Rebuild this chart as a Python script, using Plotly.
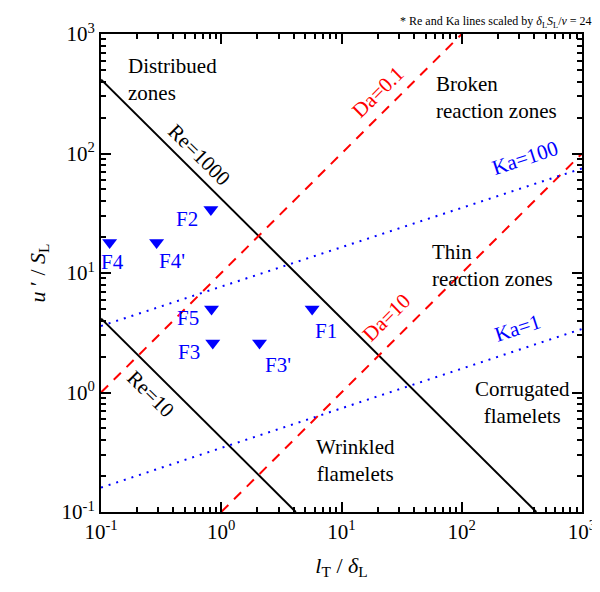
import math
import plotly.graph_objects as go

# ---- data ----
# model boundary lines: endpoints in (l_T/delta_L, u'/S_L)
re10_x = [0.1, 4.17]
re10_y = [4.17, 0.1]
re1000_x = [0.1, 417]
re1000_y = [417, 0.1]
da01_x = [0.1, 100]
da01_y = [1.0, 1000]
da10_x = [1.0, 1000]
da10_y = [0.1, 100]
ka1_x = [0.1, 1000]
ka1_y = [0.16, 3.4]
ka100_x = [0.1, 1000]
ka100_y = [3.6, 75]

# flames
flame_names = ["F1", "F2", "F3", "F3'", "F4", "F4'", "F5"]
flame_x = [5.7, 0.82, 0.85, 2.08, 0.118, 0.29, 0.83]
flame_y = [5.0, 34.0, 2.6, 2.6, 18.0, 18.0, 5.0]

tick_vals = [0.1, 1, 10, 100, 1000]
tick_text = ["10<sup>-1</sup>", "10<sup>0</sup>", "10<sup>1</sup>", "10<sup>2</sup>", "10<sup>3</sup>"]

# ---- styling ----
FONT = "Liberation Serif"
FS = 21
BLUE = "#0000ff"
RED = "#ff0000"
label_shift = {"F1": (14, -22), "F2": (-24, -10), "F3": (-24, -9), "F3'": (18, -22),
               "F4": (3, -20), "F4'": (15, -19), "F5": (-24, -9)}

fig = go.Figure()
fig.add_trace(go.Scatter(x=re10_x, y=re10_y, mode="lines", line=dict(color="black", width=2)))
fig.add_trace(go.Scatter(x=re1000_x, y=re1000_y, mode="lines", line=dict(color="black", width=2)))
fig.add_trace(go.Scatter(x=da01_x, y=da01_y, mode="lines", line=dict(color=RED, width=2, dash="10px,8px")))
fig.add_trace(go.Scatter(x=da10_x, y=da10_y, mode="lines", line=dict(color=RED, width=2, dash="10px,8px")))
fig.add_trace(go.Scatter(x=ka1_x, y=ka1_y, mode="lines", line=dict(color=BLUE, width=2, dash="2px,6px")))
fig.add_trace(go.Scatter(x=ka100_x, y=ka100_y, mode="lines", line=dict(color=BLUE, width=2, dash="2px,6px")))
fig.add_trace(go.Scatter(x=flame_x, y=flame_y, mode="markers",
                         marker=dict(symbol="triangle-down", size=13, color=BLUE)))

ann = []
for n, x, y in zip(flame_names, flame_x, flame_y):
    dx, dy = label_shift[n]
    ann.append(dict(x=math.log10(x), y=math.log10(y), xref="x", yref="y", text=n, showarrow=False,
                    xshift=dx, yshift=dy, font=dict(family=FONT, size=FS, color=BLUE)))

text_items = [
    ("Distribued<br>zones", 0.16, 420, 0, "left", "black"),
    ("Broken<br>reaction zones", 59, 292, 0, "left", "black"),
    ("Thin<br>reaction zones", 54, 11.6, 0, "left", "black"),
    ("Corrugated<br>flamelets", 320, 0.82, 0, "center", "black"),
    ("Wrinkled<br>flamelets", 13, 0.27, 0, "center", "black"),
    ("Re=1000", 0.66, 98, 44.6, "center", "black"),
    ("Re=10", 0.26, 0.98, 44.6, "center", "black"),
    ("Da=0.1", 20.2, 324, -44.6, "center", RED),
    ("Da=10", 23.5, 4.2, -44.6, "center", RED),
    ("Ka=100", 335, 92, -18.2, "center", BLUE),
    ("Ka=1", 293, 3.47, -18.2, "center", BLUE),
]
for t, x, y, ang, al, col in text_items:
    ann.append(dict(x=math.log10(x), y=math.log10(y), xref="x", yref="y", text=t, showarrow=False,
                    textangle=ang, align=al, xanchor=al,
                    font=dict(family=FONT, size=FS, color=col)))

ann.append(dict(x=1.0, y=1.0, xref="paper", yref="paper", xanchor="right", yanchor="bottom",
                yshift=2, xshift=12, showarrow=False,
                text="* Re and Ka lines scaled by <i>δ</i><sub>L</sub><i>S</i><sub>L</sub>/<i>ν</i> = 24",
                font=dict(family=FONT, size=12, color="black")))

minor_vals = [k * 10 ** e for e in range(-1, 3) for k in range(2, 10)]
axis_common = dict(type="log", range=[-1, 3], showline=True, linecolor="black", linewidth=2,
                   mirror="ticks", ticks="inside", ticklen=10, tickwidth=1.5, tickcolor="black",
                   tickvals=tick_vals, ticktext=tick_text, showgrid=False, zeroline=False,
                   tickfont=dict(family=FONT, size=FS, color="black"),
                   minor=dict(tickvals=minor_vals, ticks="inside", ticklen=5, tickwidth=1.5,
                              tickcolor="black", showgrid=False))

fig.update_layout(
    width=600, height=592, showlegend=False,
    paper_bgcolor="white", plot_bgcolor="white",
    margin=dict(l=93, r=18, t=21, b=88),
    annotations=ann,
    xaxis=dict(**axis_common, title=dict(text="<i>l</i><sub>T</sub> / <i>δ</i><sub>L</sub>",
                                         font=dict(family=FONT, size=22, color="black"), standoff=14)),
    yaxis=dict(**axis_common, title=dict(text="<i>u</i> ′ / <i>S</i><sub>L</sub>",
                                         font=dict(family=FONT, size=22, color="black"), standoff=10)),
)
fig.write_html("out.html")
